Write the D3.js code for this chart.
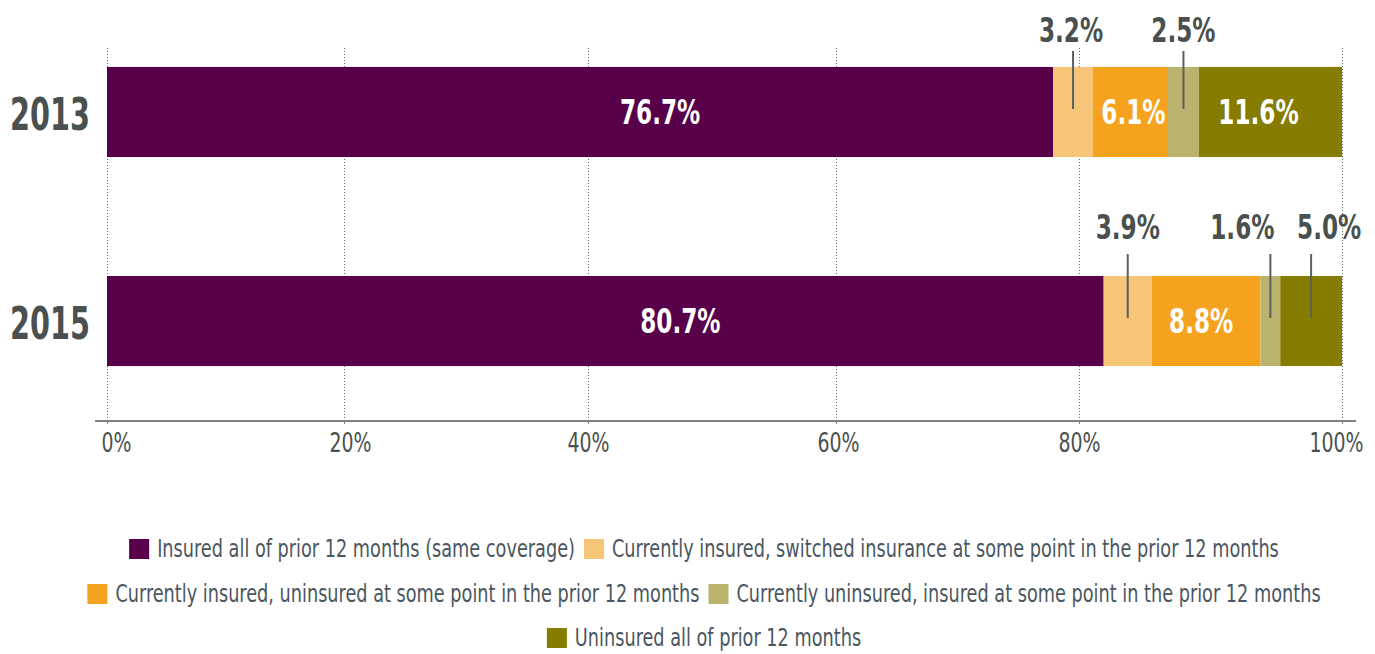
<!DOCTYPE html>
<html><head><meta charset="utf-8">
<script src="https://cdn.jsdelivr.net/npm/d3@7"></script>
<style>
body{margin:0;background:#fff;}
svg{display:block;}
text{font-family:"DejaVu Sans Condensed","Liberation Sans Narrow","Arial Narrow",sans-serif;}
</style></head>
<body><svg id="c" width="1375" height="654"></svg>
<script>
const years = ["2013","2015"];
const seriesNames = [
  "Insured all of prior 12 months (same coverage)",
  "Currently insured, switched insurance at some point in the prior 12 months",
  "Currently insured, uninsured at some point in the prior 12 months",
  "Currently uninsured, insured at some point in the prior 12 months",
  "Uninsured all of prior 12 months"
];
const colors = ["#58004a","#f6c577","#f5a21f","#b9b36e","#857c00"];
const values2013 = [76.7, 3.2, 6.1, 2.5, 11.6];
const values2015 = [80.7, 3.9, 8.8, 1.6, 5.0];
const tickValues = [0,20,40,60,80,100];
const tickLabels = ["0%","20%","40%","60%","80%","100%"];
const labelMode2013 = ["in","out","in","out","in"];
const labelMode2015 = ["in","out","in","out","out"];
const labelShift2013 = [80,-2,3,0,-12];
const labelShift2015 = [75,0,-5,-28,18];
const legendRows = [[0,1],[2,3],[4]];

const svg = d3.select("#c");
const x = d3.scaleLinear().domain([0,100]).range([107,1342]);
// the reference's gridline/axis ticks are not evenly spaced against the bars
const gx = d3.scaleLinear().domain(tickValues).range([107,344,588,836,1079,1342]);
const y = d3.scaleBand().domain(years).range([45,388]).paddingInner(0.569).paddingOuter(0.105);
const txt = "#4a504e";

function ctext(g, px, py, str, size, sx, opts={}){
  return g.append("text")
    .attr("transform",`translate(${px},${py}) scale(${sx},1)`)
    .attr("font-size",size)
    .attr("text-anchor",opts.anchor||"start")
    .attr("font-weight",opts.weight||"normal")
    .attr("fill",opts.fill||txt)
    .attr("dy",opts.dy||0)
    .text(str);
}

// gridlines
svg.append("g").selectAll("line").data(tickValues).join("line")
  .attr("x1",d=>gx(d)+0.5).attr("x2",d=>gx(d)+0.5)
  .attr("y1",48).attr("y2",421)
  .attr("stroke","#666").attr("stroke-width",1).attr("stroke-dasharray","1,2");

// axis
const axis = d3.axisBottom(gx).tickValues(tickValues).tickFormat((d,i)=>tickLabels[i]).tickSize(3).tickSizeOuter(0);
const ag = svg.append("g").attr("transform","translate(0,421)").call(axis);
ag.select(".domain").attr("stroke","#808080").attr("stroke-width",2).attr("d","M95,0H1356");
ag.selectAll(".tick line").attr("stroke","#808080");
const labelNudge = [9,6,0,2,0,-6];
ag.selectAll(".tick text").attr("fill",txt).attr("font-size",27).attr("y",12).attr("dy","0.71em")
  .attr("transform",(d,i)=>`translate(${labelNudge[i]},0) scale(0.78,1)`)
  .style("font-family",'"DejaVu Sans Condensed",sans-serif');

const data = [values2013, values2015];
const modes = [labelMode2013, labelMode2015];
const shifts = [labelShift2013, labelShift2015];
const outLabelGap = [25, 37];
const leaderGap = [16, 22];

data.forEach((vals,i)=>{
  const yr = years[i];
  const total = d3.sum(vals);
  let acc = 0;
  const segs = vals.map((v,j)=>{const s={v,j,x0:acc/total*100,x1:(acc+v)/total*100}; acc+=v; return s;});
  const g = svg.append("g");
  g.selectAll("rect").data(segs).join("rect")
    .attr("x",d=>x(d.x0)).attr("width",d=>x(d.x1)-x(d.x0))
    .attr("y",y(yr)).attr("height",y.bandwidth())
    .attr("fill",d=>colors[d.j]);
  const cy = y(yr)+y.bandwidth()/2;
  segs.forEach(d=>{
    const cx = (x(d.x0)+x(d.x1))/2;
    const label = d.v.toFixed(1)+"%";
    if(modes[i][d.j]==="in"){
      ctext(g, cx+shifts[i][d.j], cy, label, 33, 0.78, {anchor:"middle",weight:"bold",fill:"#fff",dy:"0.36em"});
    } else {
      g.append("line").attr("x1",cx).attr("x2",cx)
        .attr("y1",y(yr)-leaderGap[i]).attr("y2",cy-3)
        .attr("stroke","#5a605e").attr("stroke-width",2);
      ctext(g, cx+shifts[i][d.j], y(yr)-outLabelGap[i], label, 33, 0.78, {anchor:"middle",weight:"bold"});
    }
  });
  ctext(svg, 90, cy+2, yr, 45, 0.71, {anchor:"end",weight:"bold",dy:"0.36em"});
});

// legend
const legendCenter = 704;
const rowY = [549,594,638];
const sw = 20, gapSwText = 8, gapItem = 9;
const legSx = 0.82;
legendRows.forEach((row,ri)=>{
  const g = svg.append("g");
  let cursor = 0;
  row.forEach(si=>{
    g.append("rect").attr("x",cursor).attr("y",rowY[ri]-sw/2).attr("width",sw).attr("height",sw).attr("fill",colors[si]);
    const t = ctext(g, cursor+sw+gapSwText, rowY[ri], seriesNames[si], 24, legSx, {fill:"#4a5660",dy:"0.35em"});
    cursor += sw+gapSwText+t.node().getComputedTextLength()*legSx+gapItem;
  });
  const w = cursor-gapItem;
  g.attr("transform",`translate(${legendCenter-w/2},0)`);
});
</script></body></html>
